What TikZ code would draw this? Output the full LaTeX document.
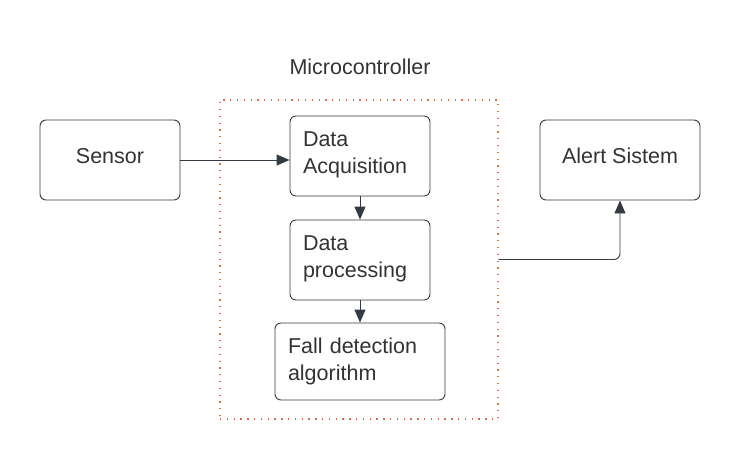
\documentclass[tikz,border=0pt]{standalone}
\usepackage{fontspec}
\setmainfont{Liberation Sans}
\usetikzlibrary{arrows.meta}
\definecolor{boxline}{HTML}{3A3A3A}
\definecolor{arrowc}{HTML}{343A44}
\definecolor{dotc}{HTML}{DD6A50}
\definecolor{txt}{HTML}{333333}
\begin{document}
\begin{tikzpicture}[x=1pt,y=-1pt,
  box/.style={draw=boxline, line width=0.9pt, rounded corners=6pt, fill=white, inner sep=0pt},
  lbl/.style={inner sep=0pt, font=\fontsize{21.5}{27}\selectfont, text=txt},
  arr/.style={draw=arrowc, line width=0.9pt, -{Triangle[length=13pt,width=11pt]}}]
\useasboundingbox (0,0) rectangle (740,460);
\fill[white] (0,0) rectangle (740,460);
\node[draw=dotc, line width=1.3pt, dash pattern=on 1.3pt off 5.5pt, minimum width=278pt, minimum height=319pt, inner sep=0pt] (mc) at (359,259.5) {};
\node[lbl] (mclabel) at (360,67) {Microcontroller};
\node[box, minimum width=140pt, minimum height=80pt] (sensor) at (110,160) {};
\node[lbl] (sensortext) at (110,156) {Sensor};
\node[box, minimum width=160pt, minimum height=80pt] (alert) at (620,160) {};
\node[lbl] (alerttext) at (620,156) {Alert Sistem};
\node[box, minimum width=140pt, minimum height=80pt] (acq) at (360,156) {};
\node[lbl, text width=114pt, align=left] (acqtext) at (360,155) {Data\\Acquisition};
\node[box, minimum width=140pt, minimum height=80pt] (proc) at (360,260) {};
\node[lbl, text width=114pt, align=left] (proctext) at (360,259) {Data\\processing};
\node[box, minimum width=170pt, minimum height=77pt] (fall) at (360,361.5) {};
\node[lbl, text width=144pt, align=left] (falltext) at (360,361) {Fall detection\\algorithm};
\draw[arr] (sensor.east) -- (acq.west |- sensor.east);
\draw[arr] (acq) -- (proc);
\draw[arr] (proc) -- (fall);
\draw[arr, rounded corners=6pt] (mc.east) -| (alert.south);
\end{tikzpicture}
\end{document}
